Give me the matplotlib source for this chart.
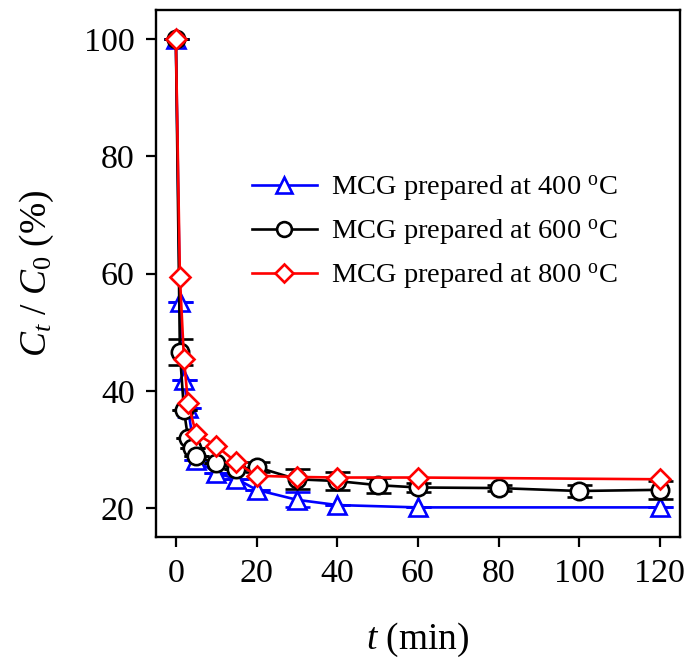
import matplotlib
matplotlib.use("Agg")
import matplotlib.pyplot as plt

plt.rcParams['font.family'] = ['Liberation Serif', 'DejaVu Serif']
plt.rcParams['mathtext.fontset'] = 'custom'
plt.rcParams['mathtext.rm'] = 'Liberation Serif'
plt.rcParams['mathtext.it'] = 'Liberation Serif:italic'
plt.rcParams['mathtext.bf'] = 'Liberation Serif:bold'

# Data
t_400 = [0, 1, 2, 3, 5, 10, 15, 20, 30, 40, 60, 120]
c_400 = [100, 55.2, 41.9, 37.0, 28.2, 25.9, 25.0, 23.1, 21.4, 20.5, 20.1, 20.1]
e_400 = [0, 0, 0, 0, 0, 0, 0, 0, 1.3, 0, 0, 0]

t_600 = [0, 1, 2, 3, 4, 5, 10, 15, 20, 30, 40, 50, 60, 80, 100, 120]
c_600 = [100, 46.6, 36.7, 32.0, 30.2, 28.9, 27.6, 26.6, 27.0, 24.9, 24.6, 23.9, 23.5, 23.4, 22.9, 23.1]
e_600 = [0, 2.2, 0, 0, 0, 0, 0, 0, 0.8, 1.7, 1.6, 1.3, 0.8, 0.5, 1.0, 1.5]

t_800 = [0, 1, 2, 3, 5, 10, 15, 20, 30, 40, 60, 120]
c_800 = [100, 59.5, 45.5, 38.0, 32.7, 30.6, 27.8, 25.5, 25.3, 25.2, 25.2, 24.9]

labels = ["MCG prepared at 400 $^{\\mathrm{o}}$C",
          "MCG prepared at 600 $^{\\mathrm{o}}$C",
          "MCG prepared at 800 $^{\\mathrm{o}}$C"]
xticks = [0, 20, 40, 60, 80, 100, 120]
yticks = [20, 40, 60, 80, 100]

fig = plt.figure(figsize=(6.88, 6.62), dpi=100)
ax = fig.add_axes([0.2263, 0.1884, 0.9884 - 0.2263, 0.9849 - 0.1884])

lw = 1.9
mew = 1.9
c1 = ax.errorbar(t_400, c_400, yerr=e_400, color='#0000ff', ecolor='#0000ff', marker='^',
                 ms=13, mfc='white', mec='#0000ff', mew=mew, lw=lw, capsize=9, elinewidth=1.6,
                 capthick=1.6, zorder=2)
c2 = ax.errorbar(t_600, c_600, yerr=e_600, color='black', ecolor='black', marker='o',
                 ms=12.5, mfc='white', mec='black', mew=mew, lw=lw, capsize=9, elinewidth=1.6,
                 capthick=1.6, zorder=3)
l3, = ax.plot(t_800, c_800, color='#ff0000', marker='D', ms=10.5, mfc='white', mec='#ff0000',
              mew=mew, lw=lw, zorder=4)

ax.set_xlim(-5, 125)
ax.set_ylim(15, 105)
ax.set_xticks(xticks)
ax.set_yticks(yticks)
ax.tick_params(axis='both', direction='out', length=7, width=1.6, labelsize=24.5, pad=8)
ax.tick_params(top=False, right=False)
for s in ax.spines.values():
    s.set_linewidth(1.7)

ax.set_xlabel("$\\mathit{t}$ (min)", fontsize=27, labelpad=23)
ax.set_ylabel("$\\mathit{C_t}$ / $\\mathit{C_0}$ (%)", fontsize=27, labelpad=20)

leg = ax.legend([c1[0], c2[0], l3], labels, loc='upper left', bbox_to_anchor=(0.183, 0.69),
                frameon=False, fontsize=20.5, handlelength=2.3, handletextpad=0.5,
                labelspacing=0.52, borderaxespad=0, borderpad=0, markerscale=0.85)
fig.savefig("out.png", dpi=100)
